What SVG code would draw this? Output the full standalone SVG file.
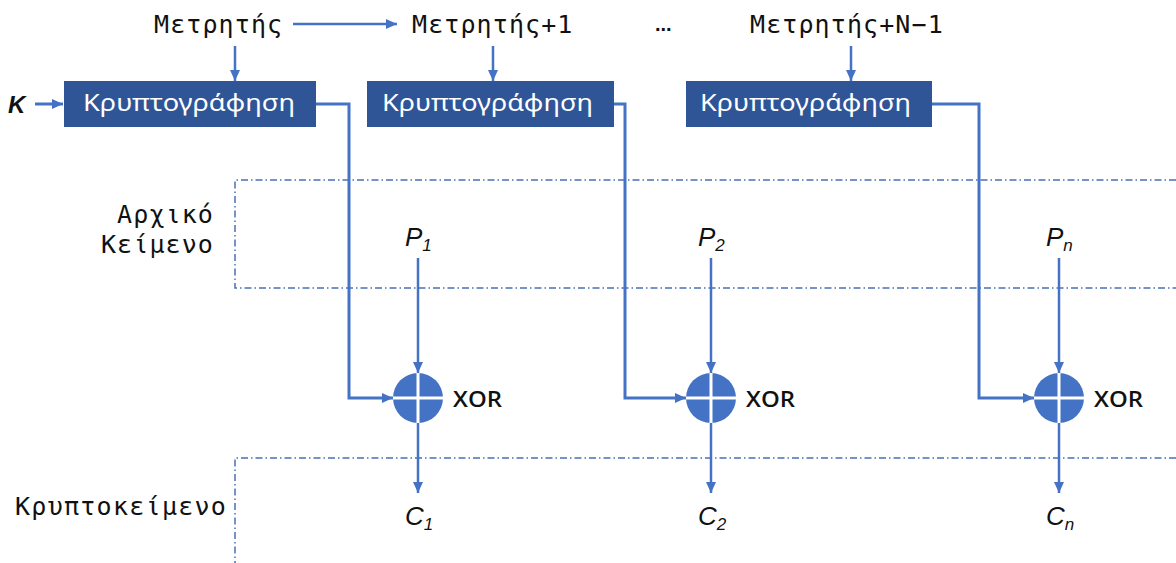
<svg xmlns="http://www.w3.org/2000/svg" width="1176" height="563" viewBox="0 0 1176 563">
  <style>
    .mono { font-family: "DejaVu Sans Mono", "Liberation Mono", monospace; font-size: 25px; letter-spacing: 1.1px; fill: #111; }
    .box rect { fill: #2F5597; }
    .box text { font-family: "Noto Sans", "DejaVu Sans", sans-serif; font-size: 23px; fill: #fff; }
    .conn { fill: none; stroke: #4472C4; stroke-width: 3; }
    .thin { stroke-width: 2.5; }
    .band { fill: none; stroke: #4A6FB5; stroke-width: 1.5; stroke-dasharray: 7 3 1.5 3; }
    .var { font-family: "Liberation Sans", "DejaVu Sans", sans-serif; font-style: italic; font-size: 26px; fill: #111; }
    .var tspan.sub { font-size: 17px; }
    .xor circle { fill: #4472C4; }
    .xor line { stroke: #fff; stroke-width: 3; }
    .xor text { font-family: "Open Sans", "Liberation Sans", sans-serif; font-size: 22px; font-weight: 600; fill: #111; }
  </style>
  <defs>
    <marker id="arrow" markerUnits="userSpaceOnUse" markerWidth="12" markerHeight="12" viewBox="0 0 12 12" refX="11" refY="6" orient="auto">
      <path d="M0,1 L11,6 L0,11 Z" fill="#4472C4"/>
    </marker>
  </defs>

  <rect width="1176" height="563" fill="#fff"/>

  <!-- dash-dot bands for plaintext and ciphertext rows -->
  <g id="bands">
    <path class="band" d="M1176,180 H235 V288 H1176"/>
    <path class="band" d="M1176,458 H235 V563"/>
  </g>

  <!-- counter labels -->
  <g id="counters">
    <text class="mono" x="154" y="33">Μετρητής</text>
    <text class="mono" x="412" y="33">Μετρητής+1</text>
    <text x="655" y="31" font-family="Liberation Sans, sans-serif" font-size="20" font-weight="bold" fill="#111">...</text>
    <text class="mono" x="750" y="33">Μετρητής+N−1</text>
  </g>

  <!-- row labels -->
  <g id="row-labels">
    <text class="mono" x="214" y="223" text-anchor="end" letter-spacing="0">Αρχικό</text>
    <text class="mono" x="214" y="253" text-anchor="end" letter-spacing="0">Κείμενο</text>
    <text class="mono" x="15" y="515" textLength="212">Κρυπτοκείμενο</text>
  </g>

  <text id="key" x="8" y="113" font-family="Liberation Sans, sans-serif" font-size="24" font-weight="bold" font-style="italic" fill="#111">K</text>

  <!-- encryption blocks -->
  <g id="enc1" class="box">
    <rect x="64" y="81" width="252" height="46"/>
    <text x="83" y="111" textLength="212" lengthAdjust="spacingAndGlyphs">Κρυπτογράφηση</text>
  </g>
  <g id="enc2" class="box">
    <rect x="367" y="81" width="247" height="46"/>
    <text x="382" y="111" textLength="211" lengthAdjust="spacingAndGlyphs">Κρυπτογράφηση</text>
  </g>
  <g id="enc3" class="box">
    <rect x="686" y="81" width="246" height="46"/>
    <text x="700" y="111" textLength="211" lengthAdjust="spacingAndGlyphs">Κρυπτογράφηση</text>
  </g>

  <!-- XOR nodes -->
  <g id="xor1" class="xor">
    <circle cx="418" cy="398" r="25"/>
    <line x1="393" y1="398" x2="443" y2="398"/>
    <line x1="418" y1="373" x2="418" y2="423"/>
    <text x="453" y="407" textLength="49" lengthAdjust="spacingAndGlyphs">XOR</text>
  </g>
  <g id="xor2" class="xor">
    <circle cx="711" cy="398" r="25"/>
    <line x1="686" y1="398" x2="736" y2="398"/>
    <line x1="711" y1="373" x2="711" y2="423"/>
    <text x="746" y="407" textLength="49" lengthAdjust="spacingAndGlyphs">XOR</text>
  </g>
  <g id="xor3" class="xor">
    <circle cx="1059" cy="398" r="25"/>
    <line x1="1034" y1="398" x2="1084" y2="398"/>
    <line x1="1059" y1="373" x2="1059" y2="423"/>
    <text x="1094" y="407" textLength="49" lengthAdjust="spacingAndGlyphs">XOR</text>
  </g>

  <!-- plaintext / ciphertext block labels -->
  <g id="plain">
    <text class="var" x="405" y="246">P<tspan class="sub" dy="5">1</tspan></text>
    <text class="var" x="698" y="246">P<tspan class="sub" dy="5">2</tspan></text>
    <text class="var" x="1046" y="246">P<tspan class="sub" dy="5">n</tspan></text>
  </g>
  <g id="cipher">
    <text class="var" x="405" y="525">C<tspan class="sub" dy="5">1</tspan></text>
    <text class="var" x="698" y="525">C<tspan class="sub" dy="5">2</tspan></text>
    <text class="var" x="1046" y="525">C<tspan class="sub" dy="5">n</tspan></text>
  </g>

  <!-- connectors -->
  <g id="connectors">
    <path class="conn thin" d="M293,24 H397" marker-end="url(#arrow)"/>
    <path class="conn thin" d="M235,46 V81" marker-end="url(#arrow)"/>
    <path class="conn thin" d="M493,46 V81" marker-end="url(#arrow)"/>
    <path class="conn thin" d="M851,46 V81" marker-end="url(#arrow)"/>
    <path class="conn" d="M35,104 H63" marker-end="url(#arrow)"/>

    <path class="conn" d="M316,104 H349 V398 H393" marker-end="url(#arrow)"/>
    <path class="conn" d="M614,104 H625 V398 H686" marker-end="url(#arrow)"/>
    <path class="conn" d="M932,104 H979 V398 H1034" marker-end="url(#arrow)"/>

    <path class="conn thin" d="M418,258 V373" marker-end="url(#arrow)"/>
    <path class="conn thin" d="M711,258 V373" marker-end="url(#arrow)"/>
    <path class="conn thin" d="M1059,258 V373" marker-end="url(#arrow)"/>

    <path class="conn thin" d="M418,423 V493" marker-end="url(#arrow)"/>
    <path class="conn thin" d="M711,423 V493" marker-end="url(#arrow)"/>
    <path class="conn thin" d="M1059,423 V493" marker-end="url(#arrow)"/>
  </g>
</svg>
